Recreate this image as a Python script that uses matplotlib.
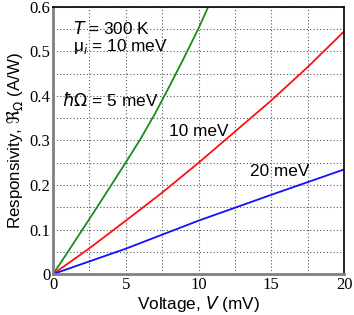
import matplotlib
matplotlib.use("Agg")
import matplotlib.pyplot as plt
import numpy as np
from matplotlib.ticker import MultipleLocator
from matplotlib import font_manager

# Data
v_green = [0, 1, 2, 3, 4, 5, 6, 7, 8, 9, 10, 11]
r_green = [0, 0.049, 0.099, 0.149, 0.2, 0.251, 0.303, 0.36, 0.422, 0.486, 0.552, 0.625]
v_red = [0, 2.5, 5, 7.5, 10, 12.5, 15, 17.5, 20]
r_red = [0, 0.058, 0.12, 0.183, 0.25, 0.32, 0.39, 0.465, 0.545]
v_blue = [0, 5, 10, 15, 20]
r_blue = [0, 0.057, 0.12, 0.178, 0.235]

xticks = [0, 5, 10, 15, 20]
xticklabels = ["0", "5", "10", "15", "20"]
yticks = [0, 0.1, 0.2, 0.3, 0.4, 0.5, 0.6]
yticklabels = ["0", "0.1", "0.2", "0.3", "0.4", "0.5", "0.6"]

plt.rcParams['font.family'] = ['Liberation Sans', 'DejaVu Sans']

names = {f.name for f in font_manager.fontManager.ttflist}
serif = 'Liberation Serif' if 'Liberation Serif' in names else 'DejaVu Serif'
serif_fp = font_manager.FontProperties(family=serif, size=12)

fig = plt.figure(figsize=(3.54, 3.15), dpi=100)
ax = fig.add_axes([0.150, 0.130, 0.822, 0.848])

ax.plot(v_green, r_green, color='#1a8c1a', lw=1.3)
ax.plot(v_red, r_red, color='#ff1010', lw=1.3)
ax.plot(v_blue, r_blue, color='#1010ff', lw=1.3)

ax.set_xlim(0, 20)
ax.set_ylim(0, 0.6)
ax.set_xticks(xticks)
ax.set_xticklabels(xticklabels, fontproperties=serif_fp)
ax.set_yticks(yticks)
ax.set_yticklabels(yticklabels, fontproperties=serif_fp)
ax.xaxis.set_minor_locator(MultipleLocator(2.5))
ax.yaxis.set_minor_locator(MultipleLocator(0.05))
ax.grid(True, which='both', color='#555555', linestyle=(0, (1, 2)), lw=0.8)
ax.set_axisbelow(True)

ax.tick_params(which='both', length=0, pad=2)

ax.spines['left'].set_color('#808080')
ax.spines['bottom'].set_color('#808080')
ax.spines['left'].set_linewidth(2)
ax.spines['bottom'].set_linewidth(2)
ax.spines['top'].set_linewidth(1.2)
ax.spines['right'].set_linewidth(1.2)

ax.set_xlabel("Voltage, $V$ (mV)", fontsize=12.4, labelpad=1)
ax.set_ylabel(r"Responsivity, $\Re_\Omega$ (A/W)", fontsize=12.2, labelpad=3)

ax.text(1.4, 0.552, "$T$ = 300 K", fontsize=12.4, va='center')
ax.text(1.35, 0.512, "μ$_i$ = 10 meV", fontsize=12.4, va='center')
ax.text(0.6, 0.392, r"$\hbar\Omega$ = 5 meV", fontsize=12.4, va='center')
ax.text(8.0, 0.320, "10 meV", fontsize=12.4, va='center')
ax.text(13.5, 0.231, "20 meV", fontsize=12.4, va='center')

fig.savefig("out.png", dpi=100)
